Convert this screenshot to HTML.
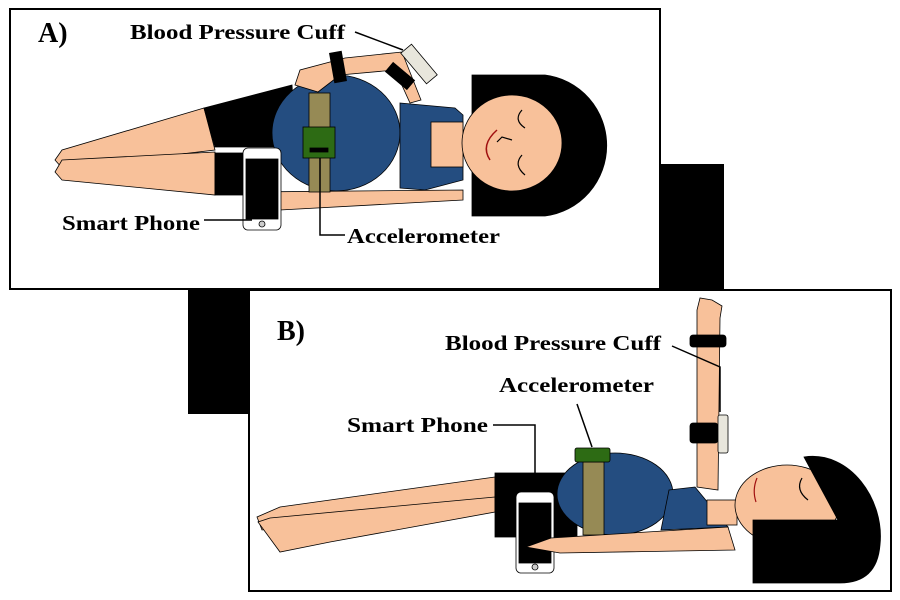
<!DOCTYPE html>
<html><head><style>html,body{margin:0;padding:0;background:#fff}svg{display:block}text{font-family:"Liberation Serif",serif;font-weight:bold}</style></head>
<body>
<svg width="900" height="600" viewBox="0 0 900 600" xmlns="http://www.w3.org/2000/svg">
<rect width="900" height="600" fill="#fff"/>
<rect x="660" y="164" width="64" height="126" fill="#000"/>
<rect x="188" y="290" width="61" height="124" fill="#000"/>
<rect x="10" y="9" width="650" height="280" fill="#fff" stroke="#000" stroke-width="2"/>
<g stroke="#000" stroke-width="0.8">
 <path d="M472,75 L545,75 A70,71 0 0 1 545,216 L472,216 Z" fill="#000"/>
 <polygon points="204,108 62,150 55,160 62,168 215,150" fill="#f8c19a"/>
 <polygon points="215,152 62,160 55,172 62,180 215,195" fill="#f8c19a"/>
 <polygon points="204,108 292,85 296,147 215,147" fill="#000"/>
 <rect x="215" y="153" width="30" height="42" fill="#000"/>
 <ellipse cx="336" cy="133" rx="64" ry="58" fill="#244d80"/>
 <polygon points="400,103 455,108 463,115 463,180 425,190 400,188" fill="#244d80"/>
 <rect x="431" y="122" width="32" height="45" fill="#f8c19a"/>
 <ellipse cx="512" cy="143" rx="50" ry="48" fill="#f8c19a"/>
 <polygon points="421,100 402,52 345,58 300,70 295,85 318,92 340,75 395,70 410,103" fill="#f8c19a"/>
 <rect x="332" y="52" width="12" height="30" fill="#000" transform="rotate(-10 338 67)"/>
 <rect x="394" y="62" width="12" height="28" fill="#000" transform="rotate(-50 400 76)"/>
 <rect x="412" y="44" width="14" height="40" fill="#e8e6dc" transform="rotate(-40 419 64)"/>
 <polygon points="248,192 463,190 463,200 280,210" fill="#f8c19a"/>
 <rect x="309" y="93" width="21" height="99" fill="#968a55"/>
 <rect x="303" y="127" width="32" height="31" fill="#2d6b14"/>
 <rect x="310" y="148" width="18" height="4" fill="#000"/>
 <rect x="243" y="148" width="38" height="82" rx="5" fill="#fff"/>
 <rect x="246" y="159" width="32" height="60" fill="#000"/>
 <circle cx="262" cy="224" r="3" fill="#ccc"/>
</g>
<path d="M497,130 Q480,145 490,160" fill="none" stroke="#a01010" stroke-width="1.5"/>
<path d="M522,110 Q513,120 525,128 M522,155 Q513,165 525,175 M497,142 L502,137 L512,140" fill="none" stroke="#000" stroke-width="1.2"/>
<text x="38" y="42" font-size="28">A)</text>
<text x="130" y="39" font-size="21" textLength="215" lengthAdjust="spacingAndGlyphs">Blood Pressure Cuff</text>
<line x1="355" y1="32" x2="403" y2="50" stroke="#000" stroke-width="1.5"/>
<text x="62" y="230" font-size="21" textLength="138" lengthAdjust="spacingAndGlyphs">Smart Phone</text>
<line x1="204" y1="220" x2="252" y2="220" stroke="#000" stroke-width="1.5"/>
<text x="347" y="243" font-size="21" textLength="153" lengthAdjust="spacingAndGlyphs">Accelerometer</text>
<polyline points="320,158 320,235 345,235" fill="none" stroke="#000" stroke-width="1.5"/>

<rect x="249" y="290" width="642" height="301" fill="#fff" stroke="#000" stroke-width="2"/>
<g stroke="#000" stroke-width="0.8">
 <polygon points="495,477 280,507 257,517 262,530 495,500" fill="#f8c19a"/>
 <polygon points="495,497 270,518 258,522 280,552 330,542 495,512" fill="#f8c19a"/>
 <rect x="495" y="473" width="82" height="64" fill="#000"/>
 <ellipse cx="615" cy="494" rx="58" ry="41" fill="#244d80"/>
 <polygon points="669,490 695,487 728,527 661,530" fill="#244d80"/>
 <rect x="707" y="500" width="30" height="25" fill="#f8c19a"/>
 <polygon points="697,487 697,310 700,298 712,300 722,306 720,318 718,490" fill="#f8c19a"/>
 <rect x="690" y="335" width="36" height="12" rx="3" fill="#000"/>
 <rect x="690" y="423" width="28" height="20" rx="3" fill="#000"/>
 <rect x="718" y="415" width="10" height="38" rx="2" fill="#e8e6dc"/>
 <ellipse cx="787" cy="505" rx="52" ry="40" fill="#f8c19a"/>
 <path d="M804,457 C850,450 885,500 880,545 C878,570 865,583 840,583 L753,583 L753,520 L838,520 Z" fill="#000"/>
 <rect x="583" y="462" width="21" height="73" fill="#968a55"/>
 <rect x="575" y="448" width="35" height="14" rx="2" fill="#2d6b14"/>
 <rect x="516" y="492" width="38" height="81" rx="5" fill="#fff"/>
 <rect x="519" y="503" width="32" height="60" fill="#000"/>
 <circle cx="535" cy="567" r="3" fill="#ccc"/>
 <polygon points="526,547 551,538 728,527 735,550 560,553" fill="#f8c19a"/>
</g>
<path d="M757,478 Q752,490 756,502" fill="none" stroke="#a01010" stroke-width="1.2"/>
<path d="M802,478 Q795,490 808,500" fill="none" stroke="#000" stroke-width="1.2"/>
<text x="277" y="340" font-size="28">B)</text>
<text x="445" y="350" font-size="21" textLength="216" lengthAdjust="spacingAndGlyphs">Blood Pressure Cuff</text>
<polyline points="672,346 720,367 720,412" fill="none" stroke="#000" stroke-width="1.5"/>
<text x="499" y="392" font-size="21" textLength="155" lengthAdjust="spacingAndGlyphs">Accelerometer</text>
<line x1="577" y1="404" x2="592" y2="447" stroke="#000" stroke-width="1.5"/>
<text x="347" y="432" font-size="21" textLength="141" lengthAdjust="spacingAndGlyphs">Smart Phone</text>
<polyline points="493,425 535,425 535,475" fill="none" stroke="#000" stroke-width="1.5"/>
</svg>
</body></html>
